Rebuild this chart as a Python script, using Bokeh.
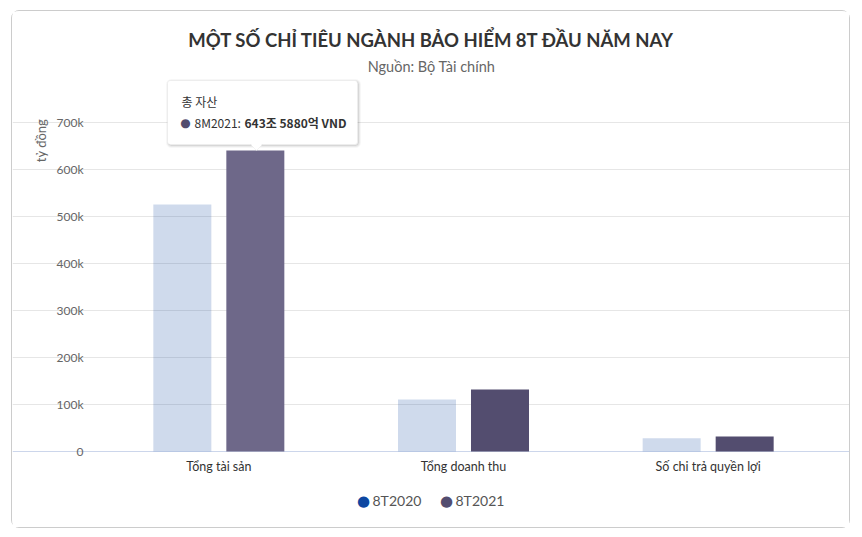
import math
from bokeh.plotting import figure
from bokeh.models import (ColumnDataSource, Range1d, FixedTicker, Label, Grid,
                          BoxAnnotation, PolyAnnotation)
from bokeh.core.properties import value
from bokeh.embed import file_html
from bokeh.resources import INLINE

# ---------------- data ----------------
categories = ["Tổng tài sản", "Tổng doanh thu", "Số chi trả quyền lợi"]
series_names = ["8T2020", "8T2021"]
values_2020 = [525500, 110500, 28300]
values_2021 = [640500, 132000, 32000]
y_ticks = [0, 100000, 200000, 300000, 400000, 500000, 600000, 700000]
y_tick_labels = ["0", "100k", "200k", "300k", "400k", "500k", "600k", "700k"]
title_text = "MỘT SỐ CHỈ TIÊU NGÀNH BẢO HIỂM 8T ĐẦU NĂM NAY"
subtitle_text = "Nguồn: Bộ Tài chính"
y_title = "tỷ đồng"
tooltip_header = "총 자산"
tooltip_series = "8M2021: "
tooltip_value = "643조 5880억 VND"

# ---------------- layout helpers (window px -> data) ----------------
OX, OY = 12, 11            # canvas origin in window
W, H = 839, 518
FRAME_L, FRAME_R = 96, 830  # plot area in window px
ZERO_Y = 451                # window px of value 0
PX_PER_UNIT = 329 / 700000
N = len(categories)
CAT_PX = (FRAME_R - FRAME_L) / N

def X(wx):
    return (wx - FRAME_L) / CAT_PX

def Y(wy):
    return (ZERO_Y - wy) / PX_PER_UNIT

p = figure(x_range=Range1d(X(OX), X(OX + W)), y_range=Range1d(Y(OY + H), Y(OY)),
           width=W, height=H, output_backend="svg", toolbar_location=None,
           x_axis_location=None, y_axis_location=None,
           min_border_left=0, min_border_right=0, min_border_top=0, min_border_bottom=0)
p.styles = {"margin-left": "11px", "margin-top": "10px",
            "border": "1px solid #cccccc", "border-radius": "8px"}
p.outline_line_color = None
p.background_fill_color = "white"
p.border_fill_color = "white"
p.grid.visible = False

FONT = "Lato"

# gridlines and x-axis line (limited to the plot area)
p.add_layout(Grid(dimension=1, ticker=FixedTicker(ticks=y_ticks[1:]), bounds=(0, N),
                  grid_line_color="#e6e6e6"))
p.add_layout(Grid(dimension=1, ticker=FixedTicker(ticks=y_ticks[:1]), bounds=(0, N),
                  grid_line_color="#ccd6eb"))

# bars
cat_x = [i + 0.5 for i in range(N)]
hover_idx = 0
colors_2021 = ["#6e6889" if i == hover_idx else "#534d6f" for i in range(N)]
BAR_W = 58 / CAT_PX
OFF = 36.5 / CAT_PX
src = ColumnDataSource(dict(x1=[c - OFF for c in cat_x], x2=[c + OFF for c in cat_x],
                            v2020=values_2020, v2021=values_2021, c2021=colors_2021))
p.vbar(x="x1", top="v2020", width=BAR_W, source=src,
       fill_color="#0d47a1", fill_alpha=0.2, line_color=None)
p.vbar(x="x2", top="v2021", width=BAR_W, source=src,
       fill_color="c2021", line_color=None)

# axis tick labels
ysrc = ColumnDataSource(dict(y=y_ticks, t=y_tick_labels))
p.text(x=X(83), y="y", text="t", source=ysrc, text_align="right", text_baseline="middle",
       text_font=value(FONT), text_font_size="12px", text_color="#666666")
xsrc = ColumnDataSource(dict(x=cat_x, t=categories))
p.text(x="x", y=Y(466), text="t", source=xsrc, text_align="center", text_baseline="middle",
       text_font=value(FONT), text_font_size="12.5px", text_color="#333333")

# titles
p.add_layout(Label(x=X(431), y=Y(39), text=title_text, text_align="center", text_baseline="middle",
                   text_font=FONT, text_font_size="18.5px", text_font_style="bold", text_color="#333333"))
p.add_layout(Label(x=X(431), y=Y(66), text=subtitle_text, text_align="center", text_baseline="middle",
                   text_font=FONT, text_font_size="14.5px", text_color="#666666"))
p.add_layout(Label(x=X(40), y=Y(140), text=y_title, angle=math.pi / 2, text_align="center",
                   text_baseline="middle", text_font=FONT, text_font_size="13px", text_color="#666666"))

# legend
leg_colors = ["#0d47a1", "#534d6f"]
leg_x = [363, 446]
for name, col, lx in zip(series_names, leg_colors, leg_x):
    p.add_layout(Label(x=X(lx), y=Y(500), text="●", text_align="center", text_baseline="middle",
                       text_font="DejaVu Sans", text_font_size="15px", text_color=col))
    p.add_layout(Label(x=X(lx + 9), y=Y(500), text=name, text_align="left", text_baseline="middle",
                       text_font=FONT, text_font_size="14px", text_color="#555555"))

# tooltip
for lw, la in [(5, 0.03), (3, 0.05), (1, 0.08)]:
    p.add_layout(BoxAnnotation(left=X(168), right=X(358), top=Y(81), bottom=Y(145),
                               fill_alpha=0, line_color="black", line_alpha=la, line_width=lw,
                               border_radius=3))
p.add_layout(BoxAnnotation(left=X(167), right=X(357), top=Y(80), bottom=Y(144),
                           fill_color="white", fill_alpha=1, line_color="#d9d9d9", line_width=1,
                           border_radius=3))
p.add_layout(PolyAnnotation(xs=[X(250), X(256), X(262)], ys=[Y(144), Y(150), Y(144)],
                            fill_color="white", fill_alpha=1, line_color="#d9d9d9", line_width=1))
p.add_layout(BoxAnnotation(left=X(251), right=X(261), top=Y(142.5), bottom=Y(144.6),
                           fill_color="white", fill_alpha=1, line_color=None))
p.add_layout(Label(x=X(181), y=Y(101), text=tooltip_header, text_align="left", text_baseline="middle",
                   text_font="Noto Sans CJK KR", text_font_size="12px", text_color="#333333"))
p.add_layout(Label(x=X(185), y=Y(122), text="●", text_align="center", text_baseline="middle",
                   text_font="DejaVu Sans", text_font_size="12px", text_color="#534d6f"))
p.add_layout(Label(x=X(194), y=Y(122), text=tooltip_series, text_align="left", text_baseline="middle",
                   text_font="Noto Sans CJK KR", text_font_size="12px", text_color="#333333"))
p.add_layout(Label(x=X(244), y=Y(122), text=tooltip_value, text_align="left", text_baseline="middle",
                   text_font="Noto Sans CJK KR", text_font_size="12px", text_font_style="bold",
                   text_color="#333333"))

open("out.html", "w").write(file_html(p, INLINE))
